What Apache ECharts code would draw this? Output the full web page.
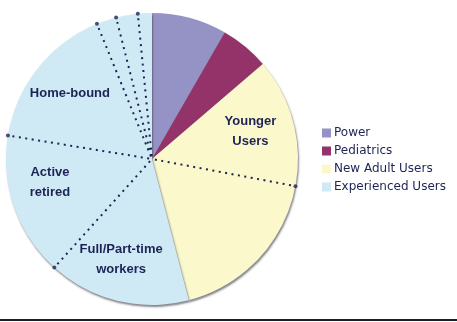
<!DOCTYPE html>
<html><head><meta charset="utf-8">
<script src="https://cdn.jsdelivr.net/npm/echarts@6/dist/echarts.min.js"></script>
<style>html,body{margin:0;padding:0;background:#fff}#c{width:457px;height:322px}</style>
</head><body><div id="c"></div>
<script>
// Main groups (legend)
const groupNames = ['Power', 'Pediatrics', 'New Adult Users', 'Experienced Users'];
const groupValues = [8.3, 5.4, 32.2, 54.0];
const groupColors = ['#9592c6', '#94336a', '#fbf8cc', '#cfeaf4'];
// Sub-segments (clockwise from top)
const segLabels = ['', '', 'Younger\nUsers', '', 'Full/Part-time\nworkers', 'Active\nretired', 'Home-bound', '', '', ''];
const segValues = [8.3, 5.4, 14.25, 17.95, 15.7, 15.9, 16.25, 2.2, 2.4, 1.55];
// Dotted divider lines sit after these segment indices
const dividerAfter = [2, 4, 5, 6, 7, 8];

const total = segValues.reduce((a, b) => a + b, 0);
const cum = [];
segValues.reduce((a, v, i) => (cum[i] = a + v), 0);
const dividerAngles = dividerAfter.map(i => cum[i] / total * 360);

const navy = '#1d2455';
const cx = 152, cy = 159, R = 146;
// small label nudges (dx, dy) by segment index
const labelNudge = { 2: [-3, 0], 4: [-6, -2], 5: [-3, -11] };

const series = [
  {
    type: 'pie', center: [cx, cy], radius: [0, R], startAngle: 90, clockwise: true,
    label: { show: false }, labelLine: { show: false }, silent: true,
    itemStyle: { shadowColor: 'rgba(80,80,90,0.7)', shadowBlur: 2, shadowOffsetX: 1, shadowOffsetY: 2 },
    data: groupNames.map((n, i) => ({ name: n, value: groupValues[i], itemStyle: { color: groupColors[i] } }))
  },
  {
    type: 'pie', center: [cx, cy], radius: [58, R], startAngle: 90, clockwise: true, silent: true,
    labelLine: { show: false },
    label: { show: true, position: 'inside', color: navy, fontFamily: 'Liberation Sans, Arial, sans-serif',
             fontWeight: 'bold', fontSize: 13, lineHeight: 20 },
    labelLayout: p => { const n = labelNudge[p.dataIndex]; return n ? { dx: n[0], dy: n[1] } : {}; },
    itemStyle: { color: 'rgba(0,0,0,0)', borderWidth: 0 },
    data: segValues.map((v, i) => ({ name: 'seg' + i, value: v,
      label: { show: segLabels[i] !== '', formatter: segLabels[i] } }))
  }
];
dividerAngles.forEach(a => {
  series.push({
    type: 'line', coordinateSystem: 'polar', polarIndex: 0, silent: true,
    symbol: 'none', animation: false,
    lineStyle: { color: navy, width: 2, type: [2, 4.5], cap: 'butt' },
    data: [[0.02, a], [1, a]]
  });
});
series.push({
  type: 'scatter', coordinateSystem: 'polar', silent: true, symbol: 'circle', symbolSize: 4,
  itemStyle: { color: navy }, animation: false,
  data: dividerAngles.map(a => [1, a])
});

const chart = echarts.init(document.getElementById('c'), null, { renderer: 'canvas' });
chart.setOption({
  animation: false,
  backgroundColor: '#fff',
  polar: { center: [cx, cy], radius: R },
  angleAxis: { type: 'value', min: 0, max: 360, startAngle: 90, clockwise: true, show: false },
  radiusAxis: { type: 'value', min: 0, max: 1, show: false },
  legend: {
    data: groupNames, orient: 'vertical', left: 317, top: 122,
    itemWidth: 9, itemHeight: 9, itemGap: 6, icon: 'rect',
    textStyle: { color: navy, fontFamily: 'DejaVu Sans, Verdana, sans-serif', fontSize: 12, padding: [0, 0, 0, -2] }
  },
  graphic: [{ type: 'rect', shape: { x: 0, y: 319, width: 457, height: 2 }, style: { fill: '#1b2030' } }],
  series: series
});
</script></body></html>
